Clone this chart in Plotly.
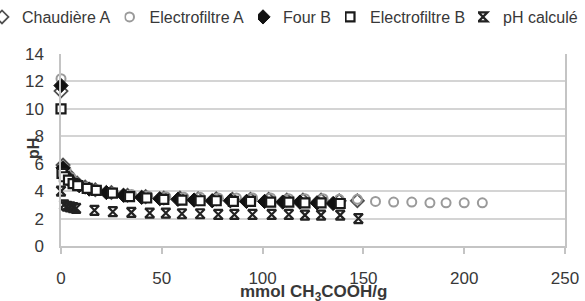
import plotly.graph_objects as go

# Chaudière A (open diamond)
chaud_x = [0, 1, 3, 5, 8, 12, 17, 25, 33, 42, 51, 59, 68, 77, 85, 94, 103, 112, 120, 129, 138, 147]
chaud_y = [11.3, 5.9, 5.3, 4.9, 4.6, 4.3, 4.1, 3.9, 3.7, 3.6, 3.5, 3.5, 3.45, 3.45, 3.4, 3.4, 3.4, 3.35, 3.35, 3.35, 3.3, 3.3]

# Electrofiltre A (open grey circle)
efa_x = [0, 2.5, 5, 8, 13, 18, 26, 35, 43, 52, 61, 69, 78, 87, 95, 104, 113, 121, 130, 138, 147,
         156, 165, 174, 183, 191, 200, 209]
efa_y = [12.2, 5.55, 5.0, 4.6, 4.3, 4.1, 3.9, 3.75, 3.65, 3.6, 3.55, 3.55, 3.5, 3.5, 3.5, 3.5, 3.45, 3.45,
         3.45, 3.4, 3.4, 3.25, 3.2, 3.2, 3.15, 3.15, 3.15, 3.15]

# Four B (filled diamond)
fourb_x = [0, 1, 2, 4, 6, 9, 14, 22.5, 31, 40, 49, 58, 66, 75, 84, 92, 101, 110, 118.5, 127, 135]
fourb_y = [11.7, 5.7, 5.2, 4.8, 4.6, 4.4, 4.15, 3.9, 3.7, 3.55, 3.45, 3.4, 3.35, 3.3, 3.3, 3.25, 3.25, 3.2, 3.2, 3.15, 3.1]

# Electrofiltre B (open square)
efb_x = [0, 0.5, 1.7, 3.7, 6, 8.3, 13, 17.5, 25.5, 34, 42.5, 51, 60, 69, 77, 85.5, 94, 104, 113, 121, 129, 138.5]
efb_y = [10.0, 5.3, 5.05, 4.8, 4.55, 4.4, 4.2, 4.05, 3.85, 3.6, 3.5, 3.4, 3.35, 3.3, 3.3, 3.25, 3.25, 3.2, 3.2, 3.15, 3.15, 3.1]

# pH calculé (star)
calc_x = [0, 1.5, 3, 4.5, 6, 7.5, 16.6, 25.7, 34.9, 44, 52, 60, 69, 78, 86, 95, 104.5, 113, 121, 129, 138.5, 147.5]
calc_y = [4.0, 3.0, 2.9, 2.85, 2.8, 2.75, 2.6, 2.5, 2.45, 2.4, 2.4, 2.35, 2.35, 2.3, 2.3, 2.3, 2.3, 2.3, 2.25, 2.25, 2.25, 2.0]

x_ticks = [0, 50, 100, 150, 200, 250]
y_ticks = [0, 2, 4, 6, 8, 10, 12, 14]

FONT = "Liberation Sans, Arial, sans-serif"
TXT = "#383838"

W, H = 585, 301
ML, MR, MT, MB = 61, 20, 54, 55
PW = W - ML - MR
PH = H - MT - MB

def px_x(px):
    return (px - ML) / PW

def px_y(py):
    return (H - MB - py) / PH

fig = go.Figure()
fig.add_trace(go.Scatter(x=chaud_x, y=chaud_y, mode="markers", name="Chaudière A", legend="legend",
                         cliponaxis=False,
                         marker=dict(symbol="diamond", size=10, color="white", line=dict(width=1.8, color="#505050"))))
fig.add_trace(go.Scatter(x=efa_x, y=efa_y, mode="markers", name="Electrofiltre A", legend="legend2",
                         cliponaxis=False,
                         marker=dict(symbol="circle-open", size=9, color="#9a9a9a", line=dict(width=2))))
fig.add_trace(go.Scatter(x=fourb_x, y=fourb_y, mode="markers", name="Four B", legend="legend3",
                         cliponaxis=False,
                         marker=dict(symbol="diamond", size=11, color="#111111", line=dict(width=1, color="#111111"))))
fig.add_trace(go.Scatter(x=efb_x, y=efb_y, mode="markers", name="Electrofiltre B", legend="legend4",
                         cliponaxis=False,
                         marker=dict(symbol="square", size=9, color="white", line=dict(width=2.2, color="#1a1a1a"))))
fig.add_trace(go.Scatter(x=calc_x, y=calc_y, mode="markers", name="pH calculé", legend="legend5",
                         cliponaxis=False,
                         marker=dict(symbol="hourglass-open", size=9, color="#222222", line=dict(width=2.2))))

leg_common = dict(xref="paper", yref="paper", xanchor="left", yanchor="middle",
                  orientation="h",
                  y=px_y(17), font=dict(size=16, color=TXT, family=FONT),
                  bgcolor="rgba(0,0,0,0)", itemwidth=30, indentation=-15)

fig.update_layout(
    width=W, height=H,
    margin=dict(l=ML, r=MR, t=MT, b=MB, autoexpand=False),
    paper_bgcolor="white", plot_bgcolor="white",
    font=dict(family=FONT, size=17, color=TXT),
    showlegend=True,
    legend=dict(x=px_x(-3), **leg_common),
    legend2=dict(x=px_x(124.5), **leg_common),
    legend3=dict(x=px_x(258), **leg_common),
    legend4=dict(x=px_x(345), **leg_common),
    legend5=dict(x=px_x(478), **leg_common),
    xaxis=dict(range=[0, 250], tickvals=x_ticks, showgrid=False, zeroline=False,
               showline=True, linecolor="#c4c4c4", linewidth=1.5,
               ticks="outside", ticklen=6, tickcolor="#c4c4c4", tickwidth=1.5,
               ticklabelstandoff=10, automargin=False,
               tickfont=dict(size=17, color=TXT)),
    yaxis=dict(range=[0, 14], tickvals=y_ticks, showgrid=True, gridcolor="#d4d4d4", gridwidth=1.5,
               zeroline=False, showline=True, linecolor="#c4c4c4", linewidth=1.5, mirror=True,
               ticks="", ticklabelstandoff=12, automargin=False,
               tickfont=dict(size=17, color=TXT)),
    annotations=[
        dict(text="<b>pH</b>", xref="paper", yref="paper", x=px_x(33), y=px_y(149),
             xanchor="center", yanchor="middle", textangle=-90, showarrow=False,
             font=dict(size=16, color=TXT, family=FONT)),
        dict(text="<b>mmol CH<sub>3</sub>COOH/g</b>", xref="paper", yref="paper", x=0.5, y=px_y(293),
             xanchor="center", yanchor="middle", showarrow=False,
             font=dict(size=17, color=TXT, family=FONT)),
    ],
)

fig.write_html("out.html", config={"displayModeBar": False},
               post_script="document.body.style.margin='0';document.body.style.overflow='hidden';")
